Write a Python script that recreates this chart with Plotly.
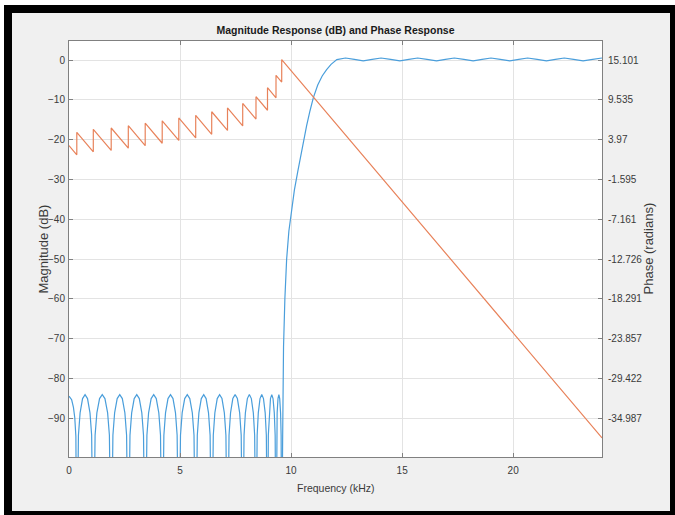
import plotly.graph_objects as go

# ---------------- data ----------------
# Magnitude response (dB) vs frequency (kHz)
freq_mag = [
    0.000, 0.120, 0.200, 0.260, 0.310, 0.351,
    0.425, 0.500, 0.611, 0.723, 0.834, 0.945, 1.020, 1.094,
    1.175, 1.255, 1.376, 1.497, 1.618, 1.739, 1.819, 1.900,
    1.977, 2.054, 2.170, 2.285, 2.401, 2.516, 2.593, 2.670,
    2.746, 2.822, 2.936, 3.051, 3.165, 3.279, 3.355, 3.431,
    3.508, 3.584, 3.699, 3.814, 3.929, 4.044, 4.120, 4.197,
    4.272, 4.346, 4.458, 4.571, 4.683, 4.795, 4.869, 4.944,
    5.020, 5.096, 5.210, 5.325, 5.439, 5.553, 5.629, 5.705,
    5.777, 5.849, 5.957, 6.066, 6.174, 6.282, 6.354, 6.426,
    6.497, 6.568, 6.675, 6.782, 6.888, 6.995, 7.066, 7.137,
    7.206, 7.274, 7.377, 7.480, 7.582, 7.685, 7.754, 7.822,
    7.882, 7.942, 8.031, 8.121, 8.211, 8.300, 8.360, 8.420,
    8.472, 8.524, 8.601, 8.679, 8.757, 8.834, 8.886, 8.938,
    8.976, 9.015, 9.072, 9.130, 9.187, 9.244, 9.283, 9.321,
    9.347, 9.372, 9.411, 9.450, 9.488, 9.527, 9.552, 9.578,
    9.620, 9.660, 9.720, 9.800, 9.900, 10.020, 10.150, 10.300,
    10.500, 10.700, 10.850, 11.000, 11.200, 11.400, 11.600, 11.800,
    12.060,
    12.450, 12.850, 13.250, 13.650, 14.050, 14.480, 14.900, 15.300,
    15.700, 16.120, 16.550, 16.950, 17.350, 17.780, 18.200, 18.600,
    19.000, 19.420, 19.850, 20.250, 20.650, 21.080, 21.500, 21.900,
    22.300, 22.720, 23.150, 23.580, 24.000,
]
mag_db = [
    -84.4, -85.3, -87.2, -89.8, -94.5, -130.0,
    -94.2, -88.6, -85.0, -84.0, -85.0, -88.6, -94.2, -130.0,
    -94.2, -88.6, -85.0, -84.0, -85.0, -88.6, -94.2, -130.0,
    -94.2, -88.6, -85.0, -84.0, -85.0, -88.6, -94.2, -130.0,
    -94.2, -88.6, -85.0, -84.0, -85.0, -88.6, -94.2, -130.0,
    -94.2, -88.6, -85.0, -84.0, -85.0, -88.6, -94.2, -130.0,
    -94.2, -88.6, -85.0, -84.0, -85.0, -88.6, -94.2, -130.0,
    -94.2, -88.6, -85.0, -84.0, -85.0, -88.6, -94.2, -130.0,
    -94.2, -88.6, -85.0, -84.0, -85.0, -88.6, -94.2, -130.0,
    -94.2, -88.6, -85.0, -84.0, -85.0, -88.6, -94.2, -130.0,
    -94.2, -88.6, -85.0, -84.0, -85.0, -88.6, -94.2, -130.0,
    -94.2, -88.6, -85.0, -84.0, -85.0, -88.6, -94.2, -130.0,
    -94.2, -88.6, -85.0, -84.0, -85.0, -88.6, -94.2, -130.0,
    -94.2, -88.6, -85.0, -84.0, -85.0, -88.6, -94.2, -130.0,
    -94.2, -88.6, -85.0, -84.0, -85.0, -88.6, -94.2, -130.0,
    -95.0, -72.0, -60.0, -50.0, -43.0, -37.5, -32.6, -28.0,
    -22.0, -16.5, -12.8, -9.5, -6.3, -4.0, -2.4, -1.1,
    0.1,
    0.50, 0.15, -0.20, 0.15, 0.50, 0.15, -0.20, 0.15,
    0.50, 0.15, -0.20, 0.15, 0.50, 0.15, -0.20, 0.15,
    0.50, 0.15, -0.20, 0.15, 0.50, 0.15, -0.20, 0.15,
    0.50, 0.15, -0.20, 0.15, 0.50,
]

# Phase response (radians) vs frequency (kHz)
freq_phase = [
    0.000, 0.351, 0.351, 1.094, 1.094, 1.900, 1.900, 2.670, 2.670,
    3.431, 3.431, 4.197, 4.197, 4.944, 4.944, 5.705, 5.705,
    6.426, 6.426, 7.137, 7.137, 7.822, 7.822, 8.420, 8.420,
    8.938, 8.938, 9.321, 9.321, 9.578, 9.578, 24.000,
]
phase_rad = [
    3.14, 1.86, 5.00, 2.27, 5.42, 2.46, 5.60, 2.78, 5.92,
    3.13, 6.28, 3.47, 6.61, 3.87, 7.01, 4.22, 7.37,
    4.72, 7.87, 5.26, 8.40, 5.89, 9.03, 6.84, 9.98,
    8.08, 11.23, 9.82, 12.96, 12.02, 15.16, -37.70,
]

# Axis ticks
x_ticks = [0, 5, 10, 15, 20]
mag_ticks = [0, -10, -20, -30, -40, -50, -60, -70, -80, -90]
phase_ticks = [15.101, 9.535, 3.97, -1.595, -7.161, -12.726, -18.291, -23.857, -29.422, -34.987]
phase_tick_text = ["15.101", "9.535", "3.97", "-1.595", "-7.161", "-12.726",
                   "-18.291", "-23.857", "-29.422", "-34.987"]

MAG_RANGE = [-99.67, 4.77]
PHASE_RANGE = [-40.370, 17.756]

# ---------------- figure ----------------
W, H = 675, 515
L, R, T, B = 69, 602, 41, 457

BLUE = "#4a9edb"
ORANGE = "#e8825a"
AXC = "#808080"
TXT = "#3a3a3a"
FONT = "Liberation Sans, Arial, sans-serif"

fig = go.Figure()
fig.add_trace(go.Scatter(x=freq_mag, y=mag_db, mode="lines",
                         line=dict(color=BLUE, width=1.2), yaxis="y",
                         showlegend=False, hoverinfo="skip"))
fig.add_trace(go.Scatter(x=freq_phase, y=phase_rad, mode="lines",
                         line=dict(color=ORANGE, width=1.2), yaxis="y2",
                         showlegend=False, hoverinfo="skip"))


def px(xp):
    return (xp - L) / (R - L)


def py(yp):
    return (B - yp) / (B - T)


shapes = []
def band(x0, y0, x1, y1, color):
    shapes.append(dict(type="rect", xref="paper", yref="paper",
                       x0=px(x0), x1=px(x1), y0=py(y1), y1=py(y0),
                       fillcolor=color, line=dict(width=0), layer="above"))

band(0, 0, W, 5, "white")
band(0, 0, 4, H, "white")
band(4, 5, W, 13, "black")
band(4, 5, 12, H, "black")
band(670, 5, W, H, "black")
band(4, 511, W, H, "black")

annotations = [
    dict(text="Frequency (kHz)", xref="paper", yref="paper", x=0.5, y=py(488),
         xanchor="center", yanchor="middle", showarrow=False,
         font=dict(size=10.5, color=TXT)),
    dict(text="Magnitude (dB)", xref="paper", yref="paper", x=px(42.5), y=0.5,
         xanchor="center", yanchor="middle", showarrow=False, textangle=-90,
         font=dict(size=13, color=TXT)),
    dict(text="Phase (radians)", xref="paper", yref="paper", x=px(647.5), y=0.5,
         xanchor="center", yanchor="middle", showarrow=False, textangle=-90,
         font=dict(size=13, color=TXT)),
]

fig.update_layout(
    width=W, height=H,
    margin=dict(l=L, r=W - R, t=T, b=H - B, pad=0),
    paper_bgcolor="#f0f0f0",
    plot_bgcolor="white",
    font=dict(family=FONT, size=11, color=TXT),
    title=dict(text="<b>Magnitude Response (dB) and Phase Response</b>",
               x=0.5, xref="paper", y=1 - 30 / H, yref="container",
               xanchor="center", yanchor="middle",
               font=dict(family=FONT, size=10.5, color="#1a1a1a")),
    xaxis=dict(range=[0, 24], tickvals=x_ticks, ticks="inside", ticklen=4,
               tickcolor=AXC, showline=True, linecolor=AXC, linewidth=1,
               mirror="ticks", showgrid=True, gridcolor="#e3e3e3", gridwidth=1,
               zeroline=False, tickfont=dict(size=10, color=TXT),
               ticklabelstandoff=4),
    yaxis=dict(range=MAG_RANGE, tickvals=mag_ticks, ticks="inside", ticklen=4,
               tickcolor=AXC, showline=True, linecolor=AXC, linewidth=1,
               showgrid=True, gridcolor="#e3e3e3", gridwidth=1, zeroline=False,
               tickfont=dict(size=10, color=TXT), ticklabelstandoff=1),
    yaxis2=dict(range=PHASE_RANGE, tickvals=phase_ticks, ticktext=phase_tick_text,
                overlaying="y", side="right", ticks="inside", ticklen=4,
                tickcolor=AXC, showline=True, linecolor=AXC, linewidth=1,
                showgrid=False, zeroline=False,
                tickfont=dict(size=10, color=TXT), ticklabelstandoff=3),
    shapes=shapes,
    annotations=annotations,
)

fig.write_html("out.html",
               config={"displayModeBar": False},
               post_script="document.body.style.margin='0';document.body.style.overflow='hidden';")
